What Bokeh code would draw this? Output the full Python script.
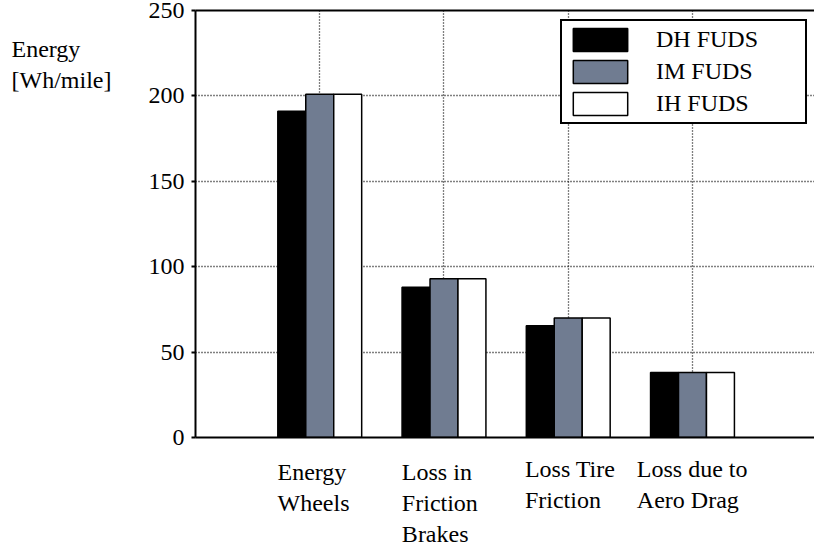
from bokeh.plotting import figure
from bokeh.layouts import row, column
from bokeh.models import Range1d, FixedTicker, Legend, LegendItem, LinearAxis, ColumnDataSource
from bokeh.core.properties import value
from bokeh.embed import file_html
from bokeh.resources import INLINE

# ---- data ----
categories = ["Energy\nWheels", "Loss in\nFriction\nBrakes", "Loss Tire\nFriction", "Loss due to\nAero Drag"]
series_names = ["DH FUDS", "IM FUDS", "IH FUDS"]
dh_fuds = [191, 88, 65.5, 38]
im_fuds = [201, 93, 70, 38]
ih_fuds = [201, 93, 70, 38]
y_ticks = [0, 50, 100, 150, 200, 250]
y_title = ["Energy", "[Wh/mile]"]

# ---- layout constants ----
FONT = "Liberation Serif"
W, H = 814, 548
TITLE_W = 120                 # width of the left strip holding the y title
MAIN_W = W - TITLE_W
LEFT = 195 - TITLE_W          # border left of the frame inside the main figure
TOP = 10
FRAME_BOTTOM = 437
MAIN_BOTTOM_BORDER = 14
MAIN_H = FRAME_BOTTOM + MAIN_BOTTOM_BORDER
LABEL_H = H - MAIN_H
X_END = 4.982
Y_END = 250
colors = ["#000000", "#707c91", "#ffffff"]
offsets = [-0.225, 0.0, 0.225]
bar_w = 0.225
label_dx = [-0.340, -0.339, -0.349, -0.448]   # left edge of category label relative to group centre
label_base_px = [471, 471, 468, 468]          # first baseline (page px)
line_step_px = 31
title_base_px = [48.5, 79.5]
title_left_px = 11

x_range = Range1d(0, X_END)
group_x = [i + 1 for i in range(len(categories))]

# ---- main plot ----
p = figure(width=MAIN_W, height=MAIN_H, x_range=x_range, y_range=Range1d(0, Y_END),
           output_backend="svg", toolbar_location=None,
           min_border_left=LEFT, min_border_right=0, min_border_top=TOP,
           min_border_bottom=MAIN_BOTTOM_BORDER)
p.outline_line_color = None
p.background_fill_color = "white"
p.border_fill_color = "white"

p.yaxis.ticker = FixedTicker(ticks=y_ticks)
p.yaxis.axis_line_width = 2
p.yaxis.major_tick_out = 4
p.yaxis.major_tick_in = 0
p.yaxis.major_tick_line_width = 2
p.yaxis.minor_tick_line_color = None
p.yaxis.major_label_standoff = 7
p.yaxis.major_label_text_font = FONT
p.yaxis.major_label_text_font_size = "24px"
p.yaxis.major_label_text_color = "black"

p.xaxis.ticker = FixedTicker(ticks=[])
p.xaxis.axis_line_width = 2
p.xaxis.major_tick_out = 0
p.xaxis.major_tick_in = 0
p.xaxis.minor_tick_line_color = None
p.xaxis.major_label_standoff = 0

top_axis = LinearAxis(ticker=FixedTicker(ticks=[]), major_tick_in=0, major_tick_out=0,
                      minor_tick_line_color=None, major_label_standoff=0, axis_line_width=2)
p.add_layout(top_axis, "above")

p.xgrid.ticker = FixedTicker(ticks=group_x)
for g in (p.xgrid, p.ygrid):
    g.grid_line_color = "black"
    g.grid_line_dash = "1 2"
    g.grid_line_width = 1.3

renderers = []
for j, vals in enumerate([dh_fuds, im_fuds, ih_fuds]):
    xs = [gx + offsets[j] for gx in group_x]
    r = p.vbar(x=xs, top=vals, bottom=0, width=bar_w, fill_color=colors[j],
               line_color="black", line_width=1.5)
    renderers.append(r)

legend = Legend(items=[LegendItem(label=n, renderers=[r]) for n, r in zip(series_names, renderers)],
                location=(365, 313), orientation="vertical",
                glyph_width=68, glyph_height=29, spacing=3, padding=4,
                label_standoff=22, label_width=145, label_height=29,
                label_text_font=FONT, label_text_font_size="24px", label_text_color="black",
                border_line_color="black", border_line_width=2, border_line_alpha=1,
                background_fill_color="white", background_fill_alpha=1, margin=0)
p.add_layout(legend, "center")

# ---- category labels strip (shares x range) ----
lf = figure(width=MAIN_W, height=LABEL_H, x_range=x_range, y_range=Range1d(LABEL_H, 0),
            output_backend="svg", toolbar_location=None, x_axis_type=None, y_axis_type=None,
            min_border_left=LEFT, min_border_right=0, min_border_top=0, min_border_bottom=0)
lf.outline_line_color = None
lf.background_fill_color = "white"
lf.border_fill_color = "white"
lx, ly, lt = [], [], []
for i, cat in enumerate(categories):
    for k, line in enumerate(cat.split("\n")):
        lx.append(group_x[i] + label_dx[i])
        ly.append(label_base_px[i] + k * line_step_px - MAIN_H)
        lt.append(line)
lf.text(x="x", y="y", text="t", source=ColumnDataSource(dict(x=lx, y=ly, t=lt)),
        text_font=value(FONT), text_font_size="24px", text_color="black",
        text_align="left", text_baseline="alphabetic")

# ---- y title strip ----
tf = figure(width=TITLE_W, height=H, x_range=Range1d(0, TITLE_W), y_range=Range1d(H, 0),
            output_backend="svg", toolbar_location=None, x_axis_type=None, y_axis_type=None,
            min_border=0)
tf.outline_line_color = None
tf.background_fill_color = "white"
tf.border_fill_color = "white"
tf.text(x=[title_left_px] * len(y_title), y=title_base_px, text=y_title,
        text_font=value(FONT), text_font_size="24px", text_color="black",
        text_align="left", text_baseline="alphabetic")

layout = row(tf, column(p, lf, spacing=0), spacing=0)
open("out.html", "w").write(file_html(layout, INLINE))
